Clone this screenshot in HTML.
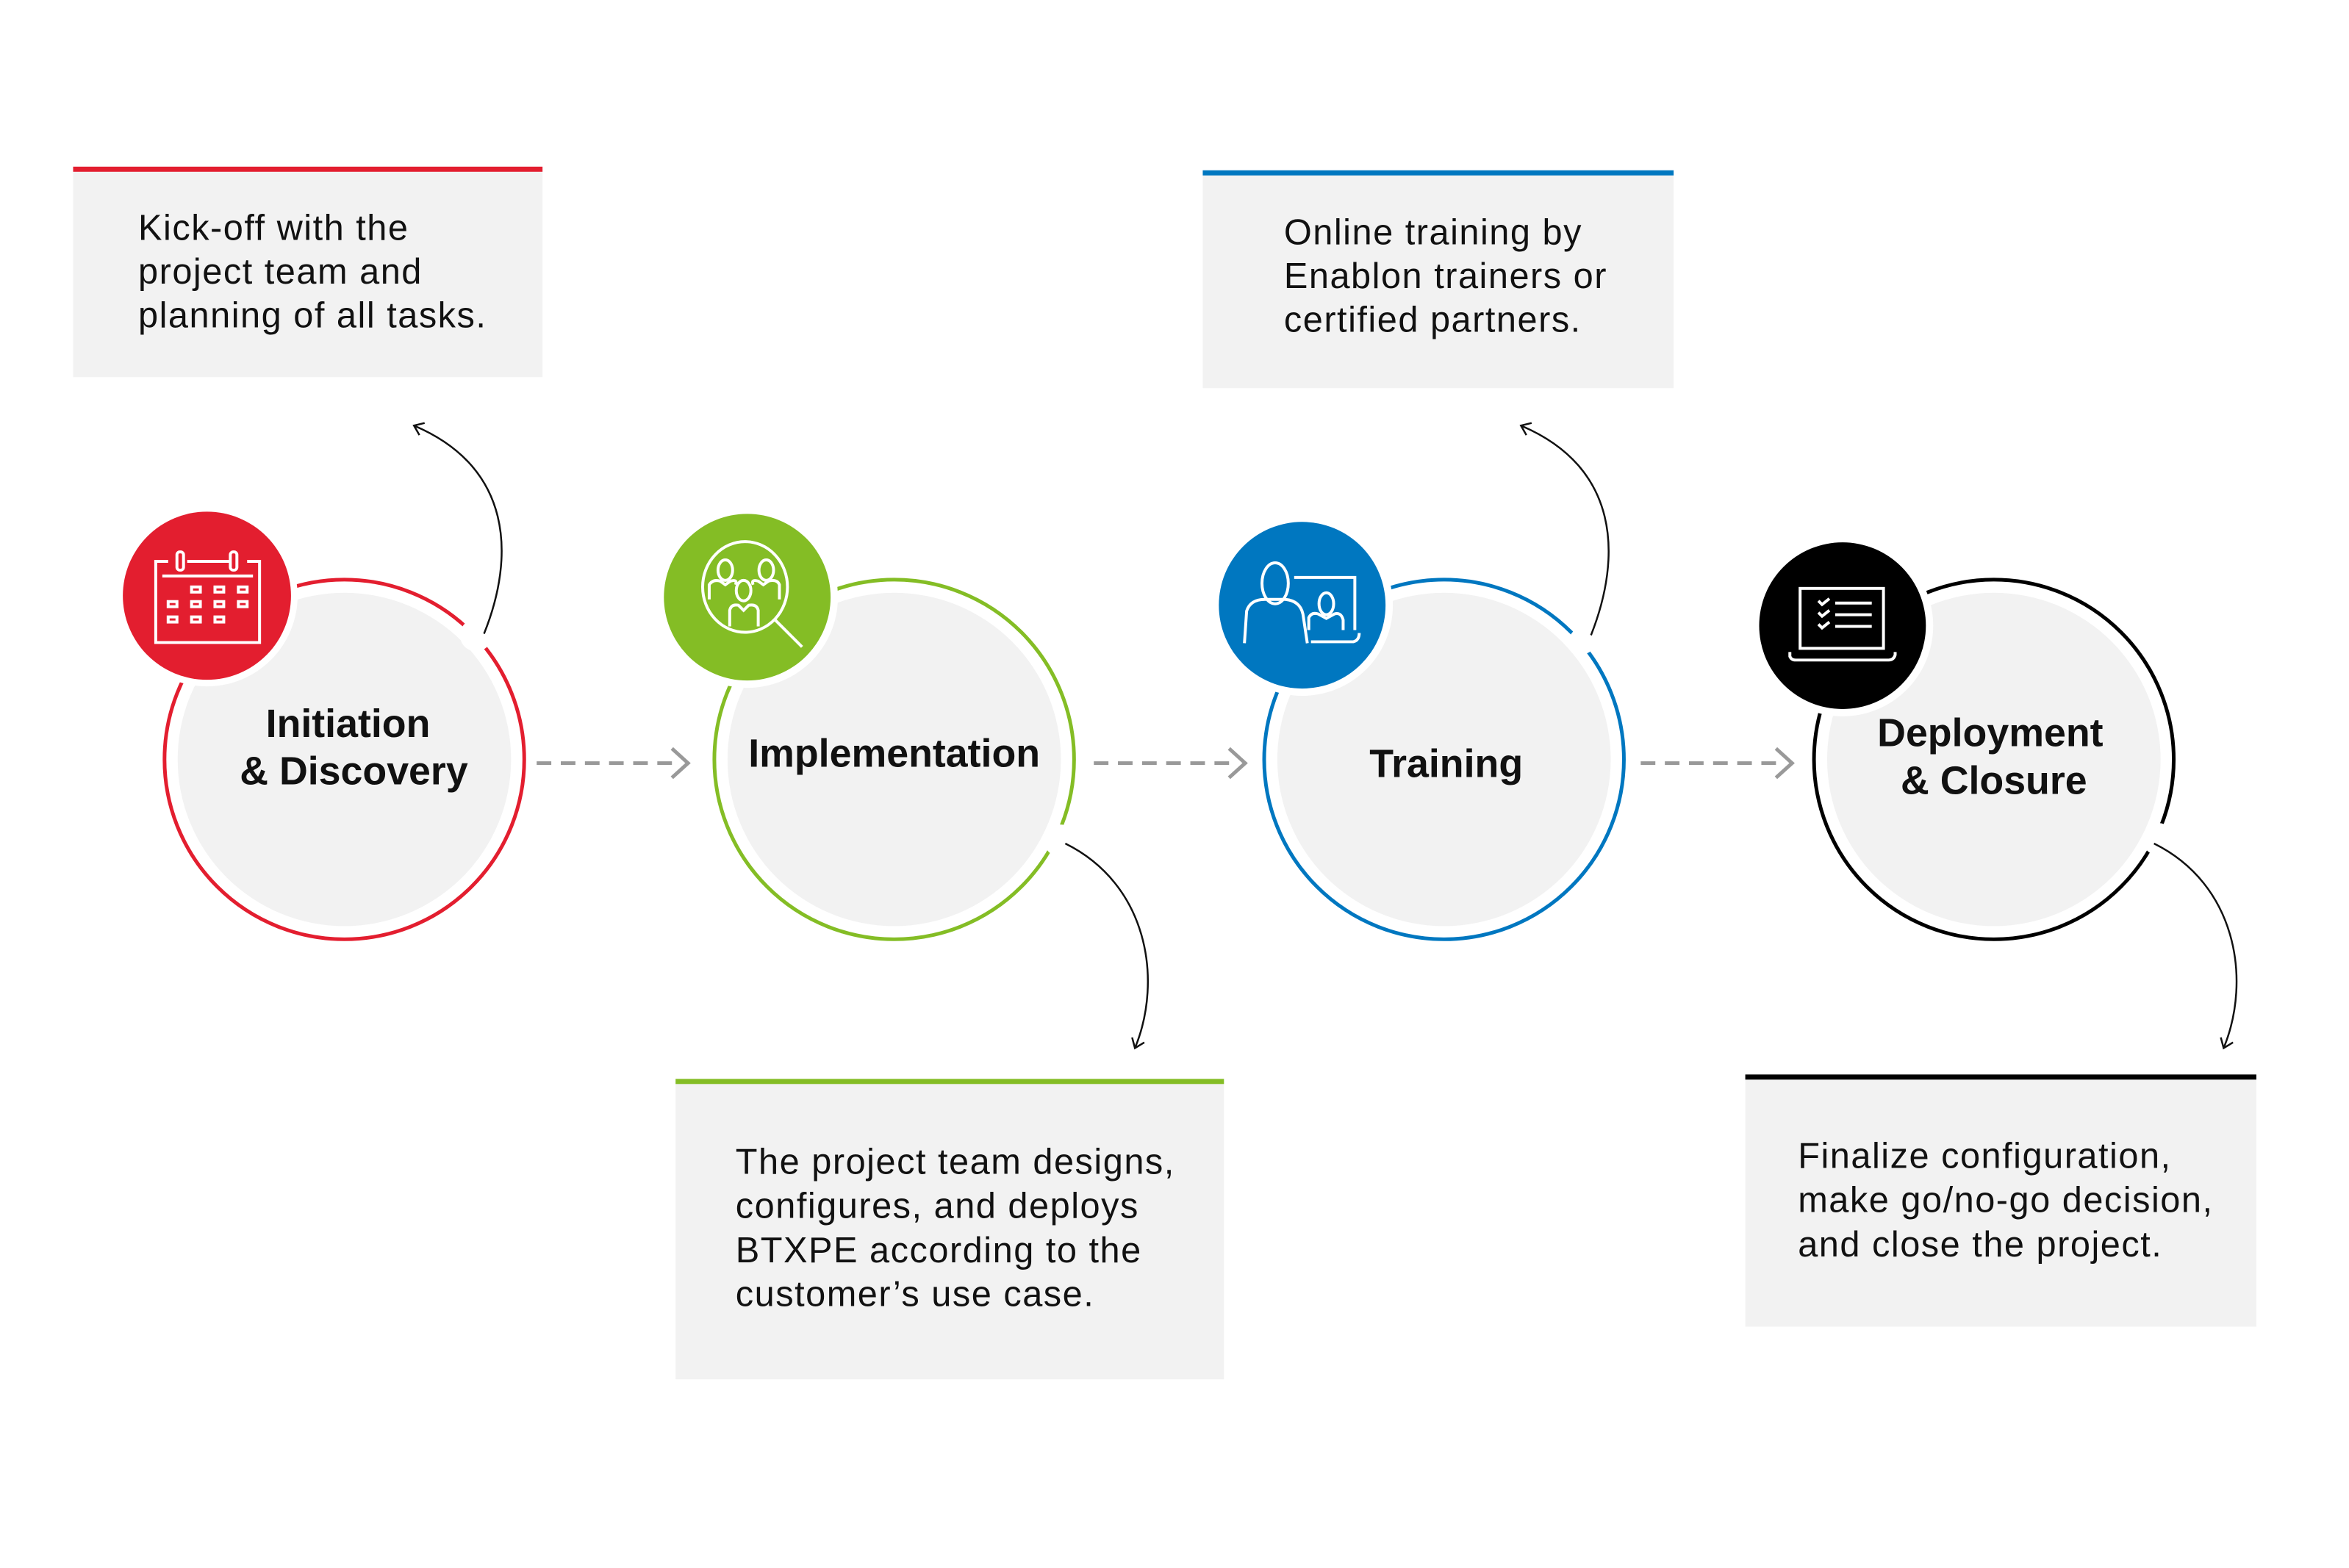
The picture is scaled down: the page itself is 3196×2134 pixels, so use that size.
<!DOCTYPE html>
<html><head><meta charset="utf-8"><style>
html,body{margin:0;padding:0;background:#fff}
svg{display:block}
text{font-family:"Liberation Sans",sans-serif}
.b{font-size:49px;letter-spacing:1.5px}
</style></head><body>
<svg width="3196" height="2134" viewBox="0 0 3196 2134" xmlns="http://www.w3.org/2000/svg">
<defs>
<marker id="ah" markerWidth="24" markerHeight="24" refX="12" refY="12" orient="auto" markerUnits="userSpaceOnUse">
<path d="M2,3 L14,12 L2,21" fill="none" stroke="#111" stroke-width="2.5"/>
</marker>
</defs>
<g transform="scale(0.9948)">
<rect x="100" y="231" width="642" height="285" fill="#f2f2f2"/>
<rect x="100" y="228" width="642" height="7" fill="#e31e2f"/>
<text class="b" fill="#111"><tspan x="189" y="328">Kick-off with the</tspan><tspan x="189" y="388">project team and</tspan><tspan x="189" y="448">planning of all tasks.</tspan></text>

<rect x="1645" y="236" width="644" height="295" fill="#f2f2f2"/>
<rect x="1645" y="233" width="644" height="7" fill="#0077c0"/>
<text class="b" fill="#111"><tspan x="1756" y="334">Online training by</tspan><tspan x="1756" y="394">Enablon trainers or</tspan><tspan x="1756" y="454">certified partners.</tspan></text>

<rect x="924" y="1479" width="750" height="408" fill="#f2f2f2"/>
<rect x="924" y="1476" width="750" height="7" fill="#84bd25"/>
<text class="b" fill="#111"><tspan x="1006" y="1606">The project team designs,</tspan><tspan x="1006" y="1666">configures, and deploys</tspan><tspan x="1006" y="1727">BTXPE according to the</tspan><tspan x="1006" y="1787">customer’s use case.</tspan></text>

<rect x="2387" y="1473" width="699" height="342" fill="#f2f2f2"/>
<rect x="2387" y="1470" width="699" height="7" fill="#000"/>
<text class="b" fill="#111"><tspan x="2459" y="1598">Finalize configuration,</tspan><tspan x="2459" y="1658">make go/no-go decision,</tspan><tspan x="2459" y="1719">and close the project.</tspan></text>

<g>
<circle cx="471" cy="1039" r="228" fill="#f2f2f2"/>
<circle cx="471" cy="1039" r="246" fill="none" stroke="#e31e2f" stroke-width="5"/>
<circle cx="1223" cy="1039" r="228" fill="#f2f2f2"/>
<circle cx="1223" cy="1039" r="246" fill="none" stroke="#84bd25" stroke-width="5"/>
<circle cx="1975" cy="1039" r="228" fill="#f2f2f2"/>
<circle cx="1975" cy="1039" r="246" fill="none" stroke="#0077c0" stroke-width="5"/>
<circle cx="2727" cy="1039" r="228" fill="#f2f2f2"/>
<circle cx="2727" cy="1039" r="246" fill="none" stroke="#000" stroke-width="5"/>
<circle cx="651" cy="869" r="22" fill="#fff"/>
<circle cx="1450" cy="1150" r="22" fill="#fff"/>
<circle cx="2164" cy="877" r="18" fill="#fff"/>
<circle cx="2952" cy="1148" r="22" fill="#fff"/>
</g>
<circle cx="283" cy="815" r="124" fill="#fff"/>
<circle cx="283" cy="815" r="115" fill="#e31e2f"/>
<circle cx="1022" cy="817" r="124" fill="#fff"/>
<circle cx="1022" cy="817" r="114" fill="#84bd25"/>
<circle cx="1781" cy="828" r="124" fill="#fff"/>
<circle cx="1781" cy="828" r="114" fill="#0077c0"/>
<circle cx="2520" cy="856" r="124" fill="#fff"/>
<circle cx="2520" cy="856" r="114" fill="#000"/>

<g fill="none" stroke="#fff" stroke-width="4">
<path d="M230,768 H213 V879 H355 V768 H338"/>
<line x1="222" y1="788" x2="346" y2="788"/>
<line x1="256" y1="768" x2="314" y2="768"/>
<rect x="242" y="755" width="9" height="25" rx="4"/>
<rect x="315" y="755" width="9" height="25" rx="4"/>
<rect x="262" y="803" width="12" height="7"/><rect x="294" y="803" width="12" height="7"/><rect x="326" y="803" width="12" height="7"/>
<rect x="230" y="823" width="12" height="7"/><rect x="262" y="823" width="12" height="7"/><rect x="294" y="823" width="12" height="7"/><rect x="326" y="823" width="12" height="7"/>
<rect x="230" y="844" width="12" height="7"/><rect x="262" y="844" width="12" height="7"/><rect x="294" y="844" width="12" height="7"/>
</g>
<g fill="none" stroke="#fff" stroke-width="4">
<ellipse cx="1019" cy="803" rx="58" ry="62"/>
<line x1="1060" y1="848" x2="1097" y2="885"/>
<ellipse cx="992" cy="780" rx="10" ry="14"/><ellipse cx="1048" cy="780" rx="10" ry="14"/><ellipse cx="1017" cy="808" rx="10" ry="14"/>
<path d="M970,820 V800 Q975,792 985,795 L992,800 L999,795 Q1009,792 1006,800"/>
<path d="M1030,800 Q1027,792 1037,795 L1044,800 L1051,795 Q1063,792 1066,800 V820"/>
<path d="M998,857 V835 Q1000,826 1010,828 L1017,835 L1024,828 Q1035,826 1037,835 V857"/>
</g>
<g fill="none" stroke="#fff" stroke-width="4">
<ellipse cx="1744" cy="798" rx="18" ry="28"/>
<path d="M1702,880 L1705,836 Q1710,820 1730,820 H1758 Q1778,822 1782,840 L1788,880"/>
<path d="M1770,790 H1853 V862"/>
<ellipse cx="1814" cy="826" rx="10" ry="15"/>
<path d="M1790,862 V845 Q1794,837 1803,840 L1814,846 L1825,840 Q1834,837 1837,848 V862"/>
<path d="M1793,878 H1851 Q1859,876 1859,866"/>
</g>
<g fill="none" stroke="#fff" stroke-width="4">
<rect x="2462" y="805" width="114" height="82"/>
<path d="M2448,892 V898 Q2450,903 2456,903 H2583 Q2590,903 2592,896 V892"/>
<path d="M2487,822 l5,5 l10,-8 M2487,838 l5,5 l10,-8 M2487,854 l5,5 l10,-8"/>
<line x1="2510" y1="825" x2="2560" y2="825"/><line x1="2510" y1="841" x2="2560" y2="841"/><line x1="2510" y1="857" x2="2560" y2="857"/>
</g>

<g font-weight="bold" font-size="54" fill="#111" text-anchor="middle">
<text x="476" y="1008">Initiation</text>
<text x="484" y="1073">&amp; Discovery</text>
<text x="1223" y="1049">Implementation</text>
<text x="1978" y="1063">Training</text>
<text x="2722" y="1021">Deployment</text>
<text x="2727" y="1086">&amp; Closure</text>
</g>

<g stroke="#999" stroke-width="5" fill="none">
<line x1="734" y1="1044" x2="930" y2="1044" stroke-dasharray="20 13"/>
<path d="M919,1024 L941,1044 L919,1064"/>
<line x1="1496" y1="1044" x2="1692" y2="1044" stroke-dasharray="20 13"/>
<path d="M1681,1024 L1703,1044 L1681,1064"/>
<line x1="2244" y1="1044" x2="2440" y2="1044" stroke-dasharray="20 13"/>
<path d="M2429,1024 L2451,1044 L2429,1064"/>
</g>

<g stroke="#111" stroke-width="2.5" fill="none" marker-end="url(#ah)">
<path d="M662,867 C705,760 700,640 568,583"/>
<path d="M1457,1154 C1570,1210 1590,1340 1553,1432"/>
<path d="M2176,869 C2219,760 2214,640 2082,583"/>
<path d="M2946,1154 C3059,1210 3079,1340 3042,1432"/>
</g>
</g>
</svg>
</body></html>
